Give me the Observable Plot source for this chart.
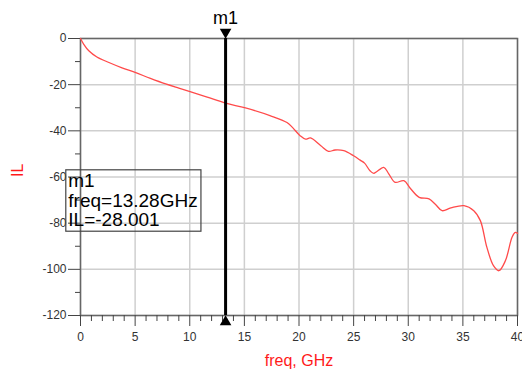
<!DOCTYPE html>
<html>
<head>
<meta charset="utf-8">
<script src="https://cdn.jsdelivr.net/npm/d3@7"></script>
<script src="https://cdn.jsdelivr.net/npm/@observablehq/plot@0.6"></script>
<style>
  html, body { margin: 0; padding: 0; background: white; }
</style>
</head>
<body>
<div id="chart"></div>
<script>
// Frequency (GHz) and insertion loss (dB)
const freq = [0, 0.3, 0.76, 1.5, 2.6, 3.8, 5.0, 6.4, 7.8, 9.0, 10.1, 11.6, 13.28, 15.1, 17.4, 18.9, 19.4, 20.1, 20.6, 21.05, 22.0, 22.7, 23.3, 24.1, 25.0, 25.6, 26.0, 26.5, 26.85, 27.76, 28.2, 28.8, 29.6, 30.2, 31.0, 31.9, 32.5, 33.1, 33.9, 35.1, 36.0, 36.6, 37.2, 37.8, 38.3, 38.9, 39.5, 39.8, 40];
const il   = [0, -2.5, -5.3, -8.0, -10.4, -12.7, -14.7, -17.3, -19.7, -21.5, -23.1, -25.4, -28.0, -30.1, -33.5, -36.4, -38.5, -42.1, -43.6, -43.1, -46.5, -48.9, -48.3, -48.6, -50.8, -52.7, -54.0, -57.3, -58.4, -55.8, -58.5, -62.3, -61.6, -65.0, -68.8, -69.5, -71.9, -74.6, -73.4, -72.4, -74.6, -78.9, -90.5, -98.4, -100.6, -96.2, -86.1, -84.0, -84.4];

// Axis ticks
const xMajorTicks = [0, 5, 10, 15, 20, 25, 30, 35, 40];
const xMinorTicks = [1,2,3,4,6,7,8,9,11,12,13,14,16,17,18,19,21,22,23,24,26,27,28,29,31,32,33,34,36,37,38,39];
const yMajorTicks = [0, -20, -40, -60, -80, -100, -120];
const yMinorTicks = [-10, -30, -50, -70, -90, -110];

// Marker m1
const markerName = ["m1"];
const markerFreq = [13.28];
const markerIL = [-28.001];
const markerLines = ["m1", "freq=13.28GHz", "IL=-28.001"];
// marker readout box extent (data units)
const boxX = [-1.3, 11.07];
const boxY = [-57.1, -83.7];

const data = freq.map((f, i) => ({f, v: il[i]}));
const font = "'Liberation Sans', Arial, sans-serif";
const fmt = d => String(d);

const chart = Plot.plot({
  width: 522,
  height: 377,
  marginLeft: 80,
  marginRight: 5,
  marginTop: 38,
  marginBottom: 62,
  x: {domain: [0, 40]},
  y: {domain: [-120, 0]},
  style: {fontFamily: font, background: "white", overflow: "visible"},
  marks: [
    Plot.gridX(xMajorTicks, {stroke: "#cfcfcf", strokeOpacity: 1, strokeWidth: 1.5}),
    Plot.gridY(yMajorTicks, {stroke: "#cfcfcf", strokeOpacity: 1, strokeWidth: 1.5}),
    Plot.frame({stroke: "#666", strokeWidth: 1.5}),
    Plot.axisY({ticks: yMajorTicks, tickSize: 12, tickPadding: 2, fontSize: 12, tickFormat: fmt, label: null, stroke: "#444", color: "#333"}),
    Plot.axisY({ticks: yMinorTicks, tickSize: 5, tickFormat: () => "", label: null, stroke: "#444"}),
    Plot.axisX({ticks: xMajorTicks, tickSize: 11, tickPadding: 6, fontSize: 12, tickFormat: fmt, label: null, stroke: "#444", color: "#333"}),
    Plot.axisX({ticks: xMinorTicks, tickSize: 6, tickFormat: () => "", label: null, stroke: "#444"}),
    Plot.line(data, {x: "f", y: "v", stroke: "#ff4a4a", strokeWidth: 1.3, curve: "catmull-rom"}),
    // marker line + triangles
    Plot.ruleX(markerFreq, {x: d => d, y1: -120, y2: 0, stroke: "black", strokeWidth: 3}),
    Plot.dot(markerFreq, {x: d => d, y: () => 0, symbol: "triangle", r: 4.3, fill: "black", stroke: "none", rotate: 180, dy: -6.5}),
    Plot.dot(markerFreq, {x: d => d, y: () => -120, symbol: "triangle", r: 4.3, fill: "black", stroke: "none", dy: 6.5}),
    Plot.text(markerName, {x: markerFreq[0], y: 0, text: d => d, dy: -20, fontSize: 18, fill: "black"}),
    // readout box
    Plot.rect([0], {x1: boxX[0], x2: boxX[1], y1: boxY[0], y2: boxY[1], fill: "none", stroke: "#444", strokeWidth: 1.2}),
    Plot.text([markerLines.join("\n")], {x: boxX[0], y: boxY[0], text: d => d, textAnchor: "start", lineAnchor: "top", dx: 2, dy: 3, fontSize: 19, lineHeight: 1.03, fill: "black"}),
    // axis titles
    Plot.text(["freq, GHz"], {frameAnchor: "bottom", dy: 50, fontSize: 16, fill: "#ff1a1a"}),
    Plot.text(["IL"], {frameAnchor: "left", dx: -63, rotate: -90, fontSize: 16, fill: "#ff1a1a"})
  ]
});
document.getElementById("chart").appendChild(chart);
</script>
</body>
</html>
